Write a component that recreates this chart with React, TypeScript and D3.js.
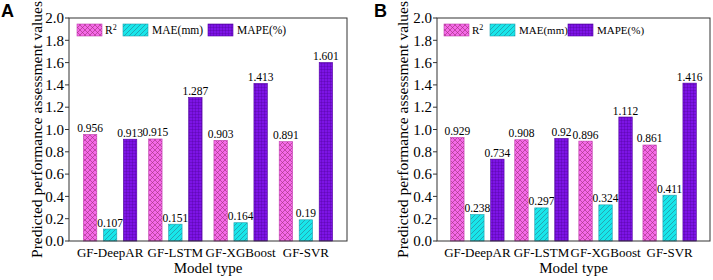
import React from "react";
import * as d3 from "d3";

const categories = ["GF-DeepAR", "GF-LSTM", "GF-XGBoost", "GF-SVR"];
const seriesNames = ["R2", "MAE(mm)", "MAPE(%)"];
const yTicks = [0, 0.2, 0.4, 0.6, 0.8, 1.0, 1.2, 1.4, 1.6, 1.8, 2.0];

const aR2 = [0.956, 0.915, 0.903, 0.891];
const aMAE = [0.107, 0.151, 0.164, 0.19];
const aMAPE = [0.913, 1.287, 1.413, 1.601];

const bR2 = [0.929, 0.908, 0.896, 0.861];
const bMAE = [0.238, 0.297, 0.324, 0.411];
const bMAPE = [0.734, 0.92, 1.112, 1.416];

const labelsA = [["0.956", "0.915", "0.903", "0.891"], ["0.107", "0.151", "0.164", "0.19"], ["0.913", "1.287", "1.413", "1.601"]];
const labelsB = [["0.929", "0.908", "0.896", "0.861"], ["0.238", "0.297", "0.324", "0.411"], ["0.734", "0.92", "1.112", "1.416"]];

const fills = ["url(#patR2)", "url(#patMAE)", "url(#patMAPE)"];
const strokes = ["#c040b0", "#20a0b0", "#5000a0"];
const serif = "'Liberation Serif', 'Times New Roman', serif";

function Panel({ letter, x0, x1, letterX, yLabelX, series, labels, legendX, legendFont }: any) {
  const top = 18;
  const bottom = 241;
  const y = d3.scaleLinear().domain([0, 2]).range([bottom, top]);
  const gx = d3.scalePoint<string>().domain(categories).range([x0, x1]).padding(0.63);
  const inner = d3.scaleBand<string>().domain(seriesNames).range([-30, 30]).paddingInner(0.33).paddingOuter(0.165);
  const bw = inner.bandwidth();
  return (
    <g>
      <text x={letterX} y={17} fontFamily="'Liberation Sans', Arial, sans-serif" fontWeight="bold" fontSize={18}>{letter}</text>
      <text transform={`translate(${yLabelX},${(top + bottom) / 2}) rotate(-90)`} textAnchor="middle" fontFamily={serif} fontSize={15.5}>Predicted performance assessment values</text>
      {yTicks.map((t) => (
        <g key={t}>
          <line x1={x0 - 4} x2={x0} y1={y(t)} y2={y(t)} stroke="#333" strokeWidth={1} />
          <text x={x0 - 5} y={y(t)} dy="0.35em" textAnchor="end" fontFamily={serif} fontSize={15}>{t.toFixed(1)}</text>
        </g>
      ))}
      {series.map((vals: number[], si: number) =>
        vals.map((v, ci) => {
          const cx = (gx(categories[ci]) as number) + (inner(seriesNames[si]) as number) + bw / 2;
          return (
            <g key={`${si}-${ci}`}>
              <rect x={cx - bw / 2} y={y(v)} width={bw} height={bottom - y(v)} fill={fills[si]} stroke={strokes[si]} strokeWidth={0.6} />
              <text x={cx} y={y(v) - 2.5} textAnchor="middle" fontFamily={serif} fontSize={11.5}>{labels[si][ci]}</text>
            </g>
          );
        })
      )}
      <rect x={x0} y={top} width={x1 - x0} height={bottom - top} fill="none" stroke="#333" strokeWidth={1} />
      {categories.map((c) => (
        <text key={c} x={gx(c) as number} y={257} textAnchor="middle" fontFamily={serif} fontSize={13}>{c}</text>
      ))}
      <text x={(x0 + x1) / 2} y={273} textAnchor="middle" fontFamily={serif} fontSize={15}>Model type</text>
      {legendX.map((lx: number, i: number) => (
        <g key={i}>
          <rect x={lx} y={24} width={25} height={12} fill={fills[i]} stroke={strokes[i]} strokeWidth={0.6} />
          {i === 0 ? (
            <text x={lx + 28} y={34} fontFamily={serif} fontSize={legendFont}>R<tspan dy={-4.5} fontSize={8}>2</tspan></text>
          ) : (
            <text x={lx + 29} y={34} fontFamily={serif} fontSize={legendFont}>{seriesNames[i]}</text>
          )}
        </g>
      ))}
    </g>
  );
}

export default function App() {
  return (
    <svg width={713} height={280} style={{ position: "absolute", left: 0, top: 0, background: "#fff" }}>
      <defs>
        <pattern id="patR2" patternUnits="userSpaceOnUse" width={5} height={5}>
          <rect width={5} height={5} fill="#f56ae8" />
          <path d="M0,0 L5,5 M5,0 L0,5" stroke="#a0307a" strokeWidth={0.6} />
        </pattern>
        <pattern id="patMAE" patternUnits="userSpaceOnUse" width={5} height={5}>
          <rect width={5} height={5} fill="#18e6ea" />
          <path d="M0,5 L5,0 M-1,1 L1,-1 M4,6 L6,4" stroke="#2a8a9a" strokeWidth={0.7} />
        </pattern>
        <pattern id="patMAPE" patternUnits="userSpaceOnUse" width={3} height={3}>
          <rect width={3} height={3} fill="#7d14e6" />
          <path d="M0,0 L3,0 M0,0 L0,3" stroke="#4a0090" strokeWidth={0.6} />
        </pattern>
      </defs>
      <Panel letter="A" x0={69} x1={347} letterX={1} yLabelX={42} series={[aR2, aMAE, aMAPE]} labels={labelsA} legendX={[77, 123, 208]} legendFont={11.5} />
      <Panel letter="B" x0={437} x1={710} letterX={374} yLabelX={408} series={[bR2, bMAE, bMAPE]} labels={labelsB} legendX={[444, 490, 568]} legendFont={11} />
    </svg>
  );
}
